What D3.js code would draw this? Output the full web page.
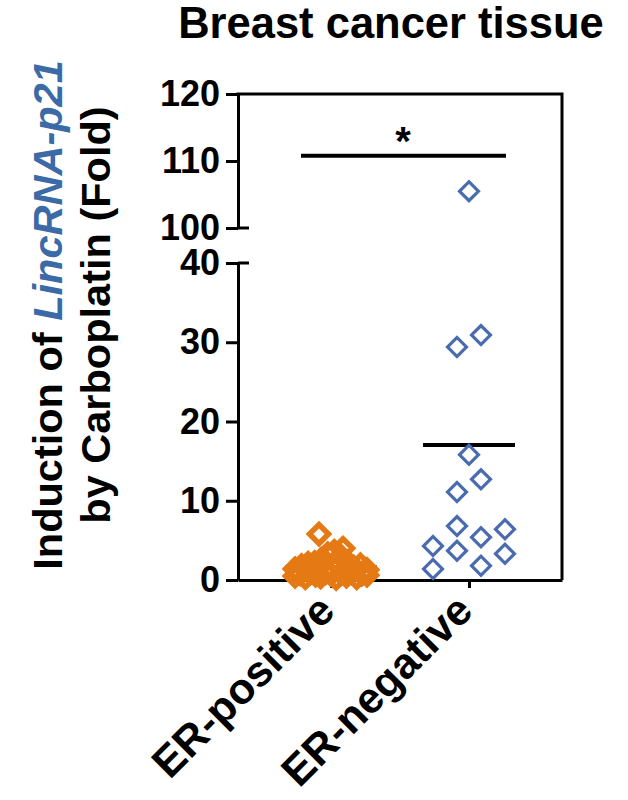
<!DOCTYPE html>
<html>
<head>
<meta charset="utf-8">
<script src="https://cdn.jsdelivr.net/npm/d3@7/dist/d3.min.js"></script>
<style>
  body { margin: 0; background: #fff; }
  text { font-family: "Liberation Sans", Arial, sans-serif; font-weight: bold; }
</style>
</head>
<body>
<div id="chart"></div>
<script>
// data
var categories = ["ER-positive", "ER-negative"];
var erPositive = [5.8, 1.4, 1.8, 2.1, 2.2, 2.6, 3.3, 4.0, 3.6, 3.0, 2.3, 1.6, 1.9, 1.3,
                  0.5, 0.8, 0.3, 0.9, 0.6, 0.4, 0.95, 0.7, 0.2, 0.85, 0.5, 0.9, 0.3, 0.75, 0.6];
var erNegative = [105.5, 29.4, 30.9, 15.8, 11.1, 12.7, 4.3, 6.8, 5.4, 6.4, 1.4, 3.7, 1.8, 3.3];
var lowTicks = [0, 10, 20, 30, 40];
var highTicks = [100, 110, 120];
var sigLevel = 110.8;

var series = [
  {name: categories[0], values: erPositive, color: "#e57914", sw: 5.5},
  {name: categories[1], values: erNegative, color: "#4a6cae", sw: 3.2}
];

var width = 628, height = 800;

var svg = d3.select("#chart")
  .append("svg")
    .attr("width", width)
    .attr("height", height);

// scales: broken y axis, two segments
var x = d3.scalePoint().domain(categories).range([238, 562]).padding(0.674);
var yLow = d3.scaleLinear().domain([0, 40]).range([580, 263]);
var yHigh = d3.scaleLinear().domain([100, 120]).range([228, 94]);
function y(v) { return v >= 100 ? yHigh(v) : yLow(v); }

// title
svg.append("text")
  .attr("x", 391).attr("y", 38)
  .attr("text-anchor", "middle")
  .style("font-size", "43.5px")
  .text("Breast cancer tissue");

// y title
var yt = svg.append("g").attr("transform", "translate(0,315) rotate(-90)");
var l1 = yt.append("text").attr("x", 0).attr("y", 62)
  .attr("text-anchor", "middle").style("font-size", "41.5px");
l1.append("tspan").text("Induction of ");
l1.append("tspan").attr("fill", "#3b6aa6").style("font-style", "italic").text("LincRNA-p21");
yt.append("text").attr("x", 0).attr("y", 110)
  .attr("text-anchor", "middle").style("font-size", "41.5px")
  .text("by Carboplatin (Fold)");

// mean lines (behind the points)
series.forEach(function(s) {
  var m = d3.mean(s.values);
  svg.append("line")
    .attr("x1", x(s.name) - 46).attr("x2", x(s.name) + 46)
    .attr("y1", y(m)).attr("y2", y(m))
    .attr("stroke", "#000").attr("stroke-width", 4);
});

// axes
function styleAxis(g) {
  g.selectAll("path, line").attr("stroke", "#000").attr("stroke-width", 3);
  g.selectAll("text").style("font-size", "36px").attr("fill", "#000");
}
svg.append("g")
  .attr("transform", "translate(238,0)")
  .call(d3.axisLeft(yLow).tickValues(lowTicks).tickSize(12).tickSizeOuter(0).tickPadding(6))
  .call(styleAxis);
svg.append("g")
  .attr("transform", "translate(238,0)")
  .call(d3.axisLeft(yHigh).tickValues(highTicks).tickSize(12).tickSizeOuter(0).tickPadding(6))
  .call(styleAxis);
svg.append("g")
  .attr("transform", "translate(0,580)")
  .call(d3.axisBottom(x).tickSize(8).tickSizeOuter(0).tickFormat(""))
  .call(styleAxis);

// break marks and frame
[100, 40].forEach(function(v) {
  svg.append("line")
    .attr("x1", 238).attr("x2", 249)
    .attr("y1", y(v)).attr("y2", y(v))
    .attr("stroke", "#000").attr("stroke-width", 3);
});
svg.append("path")
  .attr("d", "M" + 236.5 + "," + yHigh(120) + "H" + 562 + "V" + yLow(0))
  .attr("fill", "none").attr("stroke", "#000").attr("stroke-width", 3);

// x labels
svg.selectAll(".xlab")
  .data(categories)
  .enter()
  .append("text")
    .attr("class", "xlab")
    .attr("text-anchor", "end")
    .attr("transform", function(d) { return "translate(" + (x(d) + 6) + ",613) rotate(-45)"; })
    .style("font-size", "43px")
    .text(function(d) { return d; });

// scatter layout: points binned by 3-unit rows, centered in each row
function layout(s) {
  var bins = d3.group(s.values.map(function(v, i) { return {v: v, i: i}; }),
                      function(d) { return Math.floor((d.v - 1) / 3); });
  var pts = [];
  bins.forEach(function(arr) {
    var n = arr.length;
    var step = n > 1 ? Math.min(24, 72 / (n - 1)) : 0;
    arr.forEach(function(d, k) {
      pts.push({v: d.v, dx: (k - (n - 1) / 2) * step});
    });
  });
  return pts;
}

var diamond = d3.symbol().type(d3.symbolSquare).size(180);

series.forEach(function(s) {
  svg.append("g")
    .selectAll("path")
    .data(layout(s))
    .enter()
    .append("path")
      .attr("d", diamond)
      .attr("transform", function(d) {
        return "translate(" + (x(s.name) + d.dx) + "," + y(d.v) + ") rotate(45)";
      })
      .attr("fill", "none")
      .attr("stroke", s.color)
      .attr("stroke-width", s.sw);
});

// significance bar
svg.append("line")
  .attr("x1", x(categories[0]) - 30).attr("x2", x(categories[1]) + 37)
  .attr("y1", yHigh(sigLevel)).attr("y2", yHigh(sigLevel))
  .attr("stroke", "#000").attr("stroke-width", 4);
svg.append("text")
  .attr("x", (x(categories[0]) + x(categories[1])) / 2 + 3)
  .attr("y", yHigh(sigLevel) - 1)
  .attr("text-anchor", "middle")
  .style("font-size", "40px")
  .text("*");
</script>
</body>
</html>
